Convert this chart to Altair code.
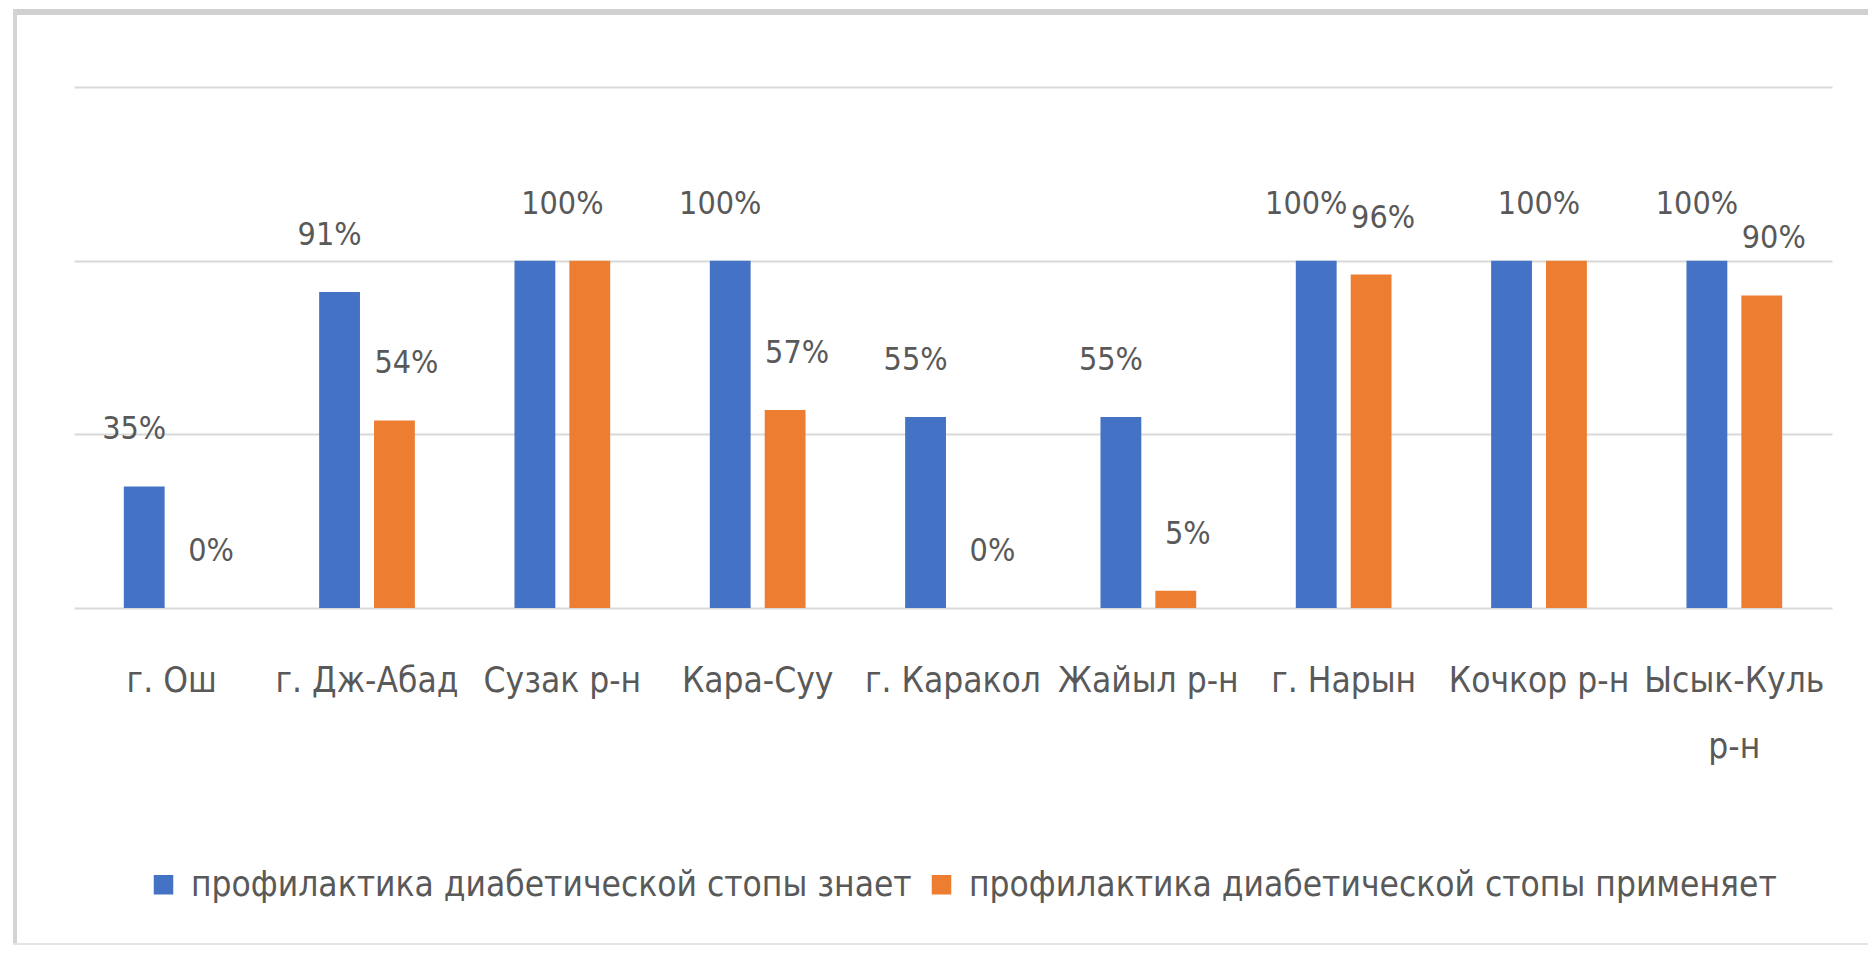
import altair as alt
import pandas as pd

categories = ["г. Ош", "г. Дж-Абад", "Сузак р-н", "Кара-Суу", "г. Каракол",
              "Жайыл р-н", "г. Нарын", "Кочкор р-н", "Ысык-Куль р-н"]
series_names = ["профилактика диабетической стопы знает",
                "профилактика диабетической стопы применяет"]
knows = [35, 91, 100, 100, 55, 55, 100, 100, 100]
applies = [0, 54, 100, 57, 0, 5, 96, 100, 90]
colors = ["#4472C4", "#ED7D31"]
grid_values = [0, 50, 100, 150]

rows = []
for i, c in enumerate(categories):
    same = knows[i] == applies[i]
    rows.append({"cat": c, "series": series_names[0], "order": 0, "value": knows[i], "same": same})
    rows.append({"cat": c, "series": series_names[1], "order": 1, "value": applies[i], "same": same})
df = pd.DataFrame(rows)

FONT = "Liberation Sans Narrow, DejaVu Sans Condensed, Open Sans, sans-serif"
TXT = "#595959"

x_enc = alt.X("cat:N", sort=categories,
              scale=alt.Scale(paddingInner=0.51, paddingOuter=0.255),
              axis=alt.Axis(title=None, labelAngle=0, domain=False, ticks=False, tickSize=0,
                            labelFont=FONT, labelFontSize=35, labelColor=TXT,
                            labelBaseline="top", labelPadding=55, labelLineHeight=66,
                            labelOverlap=False, labelLimit=400,
                            labelExpr="datum.label == 'Ысык-Куль р-н' ? ['Ысык-Куль', 'р-н'] : datum.label"))
xoff = alt.XOffset("series:N", sort=series_names, scale=alt.Scale(paddingInner=0.256, paddingOuter=0))
y_enc = alt.Y("value:Q", scale=alt.Scale(domain=[0, 150], nice=False),
              axis=alt.Axis(title=None, labels=False, domain=False, ticks=False,
                            values=grid_values, gridColor="#d9d9d9", gridWidth=2))

bars = alt.Chart(df).mark_bar().encode(
    x=x_enc, xOffset=xoff, y=y_enc,
    color=alt.Color("series:N", sort=series_names,
                    scale=alt.Scale(domain=series_names, range=colors),
                    legend=alt.Legend(title=None, orient="none", direction="horizontal",
                                      legendX=72, legendY=780,
                                      labelFont=FONT, labelFontSize=35, labelColor=TXT,
                                      symbolType="square", symbolSize=380, symbolStrokeWidth=0,
                                      labelOffset=10, columnPadding=12, labelLimit=1000,
                                      padding=0)),
)

base_text = alt.Chart(df).transform_calculate(label="datum.value + '%'")

def value_labels(flt, dx, with_offset=True):
    enc = dict(x=alt.X("cat:N", sort=categories), y="value:Q", text="label:N")
    if with_offset:
        enc["xOffset"] = alt.XOffset("series:N", sort=series_names)
    return base_text.transform_filter(flt).mark_text(
        font=FONT, fontSize=32, color=TXT, dy=-57, dx=dx, baseline="middle"
    ).encode(**enc)

labels_blue = value_labels("datum.order == 0 && !datum.same", -10)
labels_orange = value_labels("datum.order == 1 && !datum.same", 12)
labels_same = value_labels("datum.order == 0 && datum.same", 0, with_offset=False)

frame_top = alt.Chart(df).mark_rule(color="#d0d0d0", strokeWidth=6).encode(
    x=alt.value(-61), x2=alt.value(1830), y=alt.value(-75))
frame_left = alt.Chart(df).mark_rule(color="#d4d4d4", strokeWidth=4).encode(
    x=alt.value(-59), y=alt.value(-78), y2=alt.value(858))
frame_bottom = alt.Chart(df).mark_rule(color="#e4e4e4", strokeWidth=2).encode(
    x=alt.value(-61), x2=alt.value(1830), y=alt.value(857))

chart = alt.layer(bars, labels_blue, labels_orange, labels_same,
                  frame_top, frame_left, frame_bottom).properties(
    width=1758, height=521,
    autosize=alt.AutoSizeParams(type="none"),
    padding={"left": 66, "top": 79, "right": 36, "bottom": 339},
    background="white",
).configure_view(stroke=None)

chart.save("out.html", embed_options={"renderer": "svg", "actions": False})
